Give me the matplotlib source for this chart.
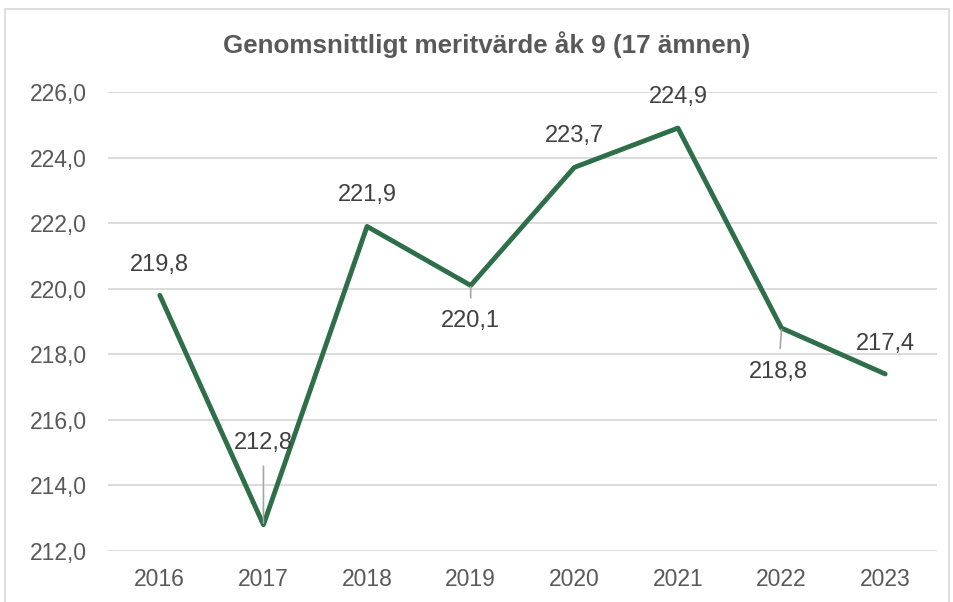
import matplotlib.pyplot as plt

plt.rcParams['font.family'] = ['Liberation Sans', 'DejaVu Sans']

years = ['2016', '2017', '2018', '2019', '2020', '2021', '2022', '2023']
values = [219.8, 212.8, 221.9, 220.1, 223.7, 224.9, 218.8, 217.4]
# label offsets in pixels (dx, dy), and whether a leader line is drawn
label_offsets = [(0, 30), (0, 82), (0, 31), (0, -36), (0, 31), (0, 31), (-3, -44), (0, 30)]
leaders = [False, True, False, True, False, False, True, False]

fig = plt.figure(figsize=(9.54, 6.02), dpi=100)
ax = fig.add_axes([108/954, 1-551/602, (937-108)/954, (551-92)/602])

x = list(range(len(years)))
ax.plot(x, values, color='#2E6F4A', linewidth=3.5, solid_joinstyle='round',
        solid_capstyle='round', zorder=3)

ax.set_ylim(212, 226)
ax.set_xlim(-0.5, len(years) - 0.5)
ax.set_yticks([212, 214, 216, 218, 220, 222, 224, 226])
ax.set_yticklabels([f'{v:.1f}'.replace('.', ',') for v in ax.get_yticks()])
ax.set_xticks(x)
ax.set_xticklabels(years)
ax.tick_params(length=0, labelsize=16.5, colors='#595959')
ax.tick_params(axis='x', pad=12)
ax.tick_params(axis='y', pad=15)
ax.grid(axis='y', color='#D9D9D9', linewidth=1.3)
ax.set_axisbelow(True)
for s in ax.spines.values():
    s.set_visible(False)

k = 0.72
for xi, v, (dx, dy), ld in zip(x, values, label_offsets, leaders):
    txt = f'{v:.1f}'.replace('.', ',')
    if ld:
        ax.annotate(txt, (xi, v), xytext=(dx*k, dy*k), textcoords='offset points',
                    ha='center', va='center', fontsize=17, color='#404040',
                    arrowprops=dict(arrowstyle='-', color='#A6A6A6', lw=1.2,
                                    shrinkA=7, shrinkB=1), zorder=4)
    else:
        ax.annotate(txt, (xi, v), xytext=(dx*k, dy*k), textcoords='offset points',
                    ha='center', va='center', fontsize=17, color='#404040', zorder=4)

fig.text(487/954, 1-45/602, 'Genomsnittligt meritvärde åk 9 (17 ämnen)',
         ha='center', va='center', fontsize=18.7, fontweight='bold', color='#595959')

border = plt.Rectangle((5/954, -0.01), 944/954, 1-9/602+0.01, transform=fig.transFigure,
                       fill=False, edgecolor='#D9D9D9', linewidth=1.2)
fig.add_artist(border)

fig.savefig('out.png', dpi=100)
